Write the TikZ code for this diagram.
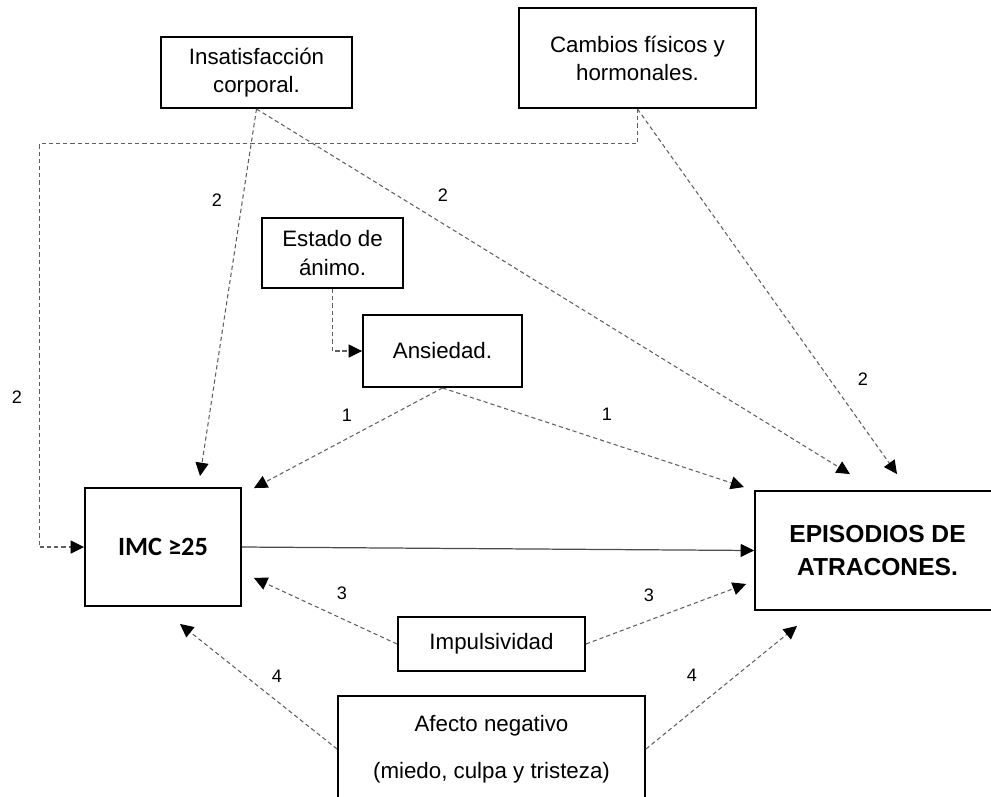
\documentclass[tikz,border=0pt]{standalone}
\usepackage{fontspec}
\setmainfont{Liberation Sans}
\newfontfamily\calibrifont{Carlito}
\usetikzlibrary{arrows.meta, calc}
\definecolor{linegray}{RGB}{95,95,95}

\begin{document}
\begin{tikzpicture}[
    x=0.02cm, y=-0.02cm,
    factor/.style={rectangle, draw=black, line width=1.1pt, align=center,
                   inner sep=2pt, font=\fontsize{12.7}{16}\selectfont},
    dline/.style={-{Triangle[length=7.6pt, width=7.4pt, color=black]}, linegray,
                  line width=0.6pt, dash pattern=on 2.4pt off 1.7pt},
    sline/.style={-{Triangle[length=7.6pt, width=7.4pt, color=black]}, black!70,
                  line width=0.7pt},
    num/.style={inner sep=0pt, font=\fontsize{10.3}{12}\selectfont},
]
\useasboundingbox (0,0) rectangle (991,796);
\clip (0,0) rectangle (991,796);

\node[factor, minimum width=3.82cm, minimum height=1.42cm] (insat) at (256.5,72.5) {Insatisfacción\\corporal.};
\node[factor, minimum width=4.74cm, minimum height=2cm] (cambios) at (637.5,58) {Cambios físicos y\\hormonales.};
\node[factor, minimum width=2.82cm, minimum height=1.4cm] (estado) at (332.5,253) {Estado de\\ánimo.};
\node[factor, minimum width=3.18cm, minimum height=1.44cm] (ansiedad) at (442.5,351) {Ansiedad.};
\node[factor, minimum width=3.12cm, minimum height=2.36cm,
      font=\calibrifont\bfseries\fontsize{15}{18}\selectfont] (imc) at (163,547) {IMC ≥25};
\node[factor, minimum width=4.9cm, minimum height=2.38cm,
      font=\bfseries\fontsize{14}{18.4}\selectfont] (episodios) at (877.5,550.5) {EPISODIOS DE\\ATRACONES.};
\node[factor, minimum width=3.74cm, minimum height=1.08cm] (impuls) at (491.5,644) {Impulsividad};
\node[factor, minimum width=6.14cm, minimum height=2.12cm] (afecto) at (491.5,749) {Afecto negativo\\[3.7mm](miedo, culpa y tristeza)};

\draw[dline] (insat.south) -- ($(imc.north)+(37,-11)$);
\draw[dline] (insat.south) -- ($(episodios.north)+(-27.5,-16)$);
\draw[dline] (cambios.south) -- ($(episodios.north)+(19.5,-16)$);
\draw[dline] (cambios.south) -- ++(0,35) -| ($(imc.west)+(-45,0)$) -- (imc.west);
\draw[dline] (estado.south) |- (ansiedad.west);
\draw[dline] (ansiedad.south) -- ($(imc.north east)+(12,1)$);
\draw[dline] (ansiedad.south) -- ($(episodios.north west)+(-10,-3)$);
\draw[sline] (imc.east) -- (episodios.west);
\draw[dline] (impuls.west) -- ($(imc.south east)+(12,-29)$);
\draw[dline] (impuls.east) -- ($(episodios.south west)+(-8,-27)$);
\draw[dline] (afecto.west) -- ($(imc.south)+(17,17)$);
\draw[dline] (afecto.east) -- ($(episodios.south west)+(43,15)$);

\node[num] (n2a) at (17,397) {2};
\node[num] (n2b) at (217,200) {2};
\node[num] (n2c) at (443,195) {2};
\node[num] (n2d) at (863,379) {2};
\node[num] (n1a) at (347,415) {1};
\node[num] (n1b) at (607,414) {1};
\node[num] (n3a) at (342,593) {3};
\node[num] (n3b) at (649,595) {3};
\node[num] (n4a) at (277,676) {4};
\node[num] (n4b) at (692,675) {4};

\end{tikzpicture}
\end{document}
